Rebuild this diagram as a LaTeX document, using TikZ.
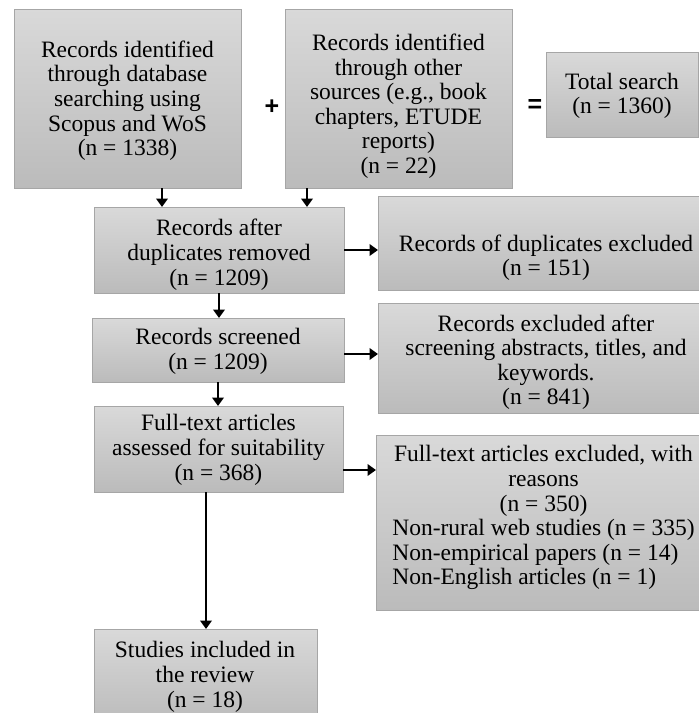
\documentclass[tikz,border=0pt]{standalone}
\usepackage{fontspec}
\setmainfont{Liberation Serif}
\newfontfamily\signfont{Liberation Sans}
\usetikzlibrary{arrows.meta}
\definecolor{boxtop}{HTML}{D9D9D9}
\definecolor{boxbot}{HTML}{BBBBBB}
\definecolor{boxline}{HTML}{A6A6A6}
\newcommand\boxlines[1]{\begin{tabular}{@{}c@{}}#1\end{tabular}}
\begin{document}
\begin{tikzpicture}[x=1pt,y=-1pt,
  box/.style={draw=boxline, line width=0.8pt, top color=boxtop, bottom color=boxbot, inner sep=0pt, outer sep=0pt},
  txt/.style={inner sep=0pt, font=\fontsize{23.5}{24.6}\selectfont},
  sign/.style={inner sep=0pt, font=\signfont\bfseries\fontsize{25}{28}\selectfont},
  arr/.style={line width=2.6pt, -{Triangle[length=8.5pt,width=11.5pt]}}]
\path[use as bounding box, clip] (0,0) rectangle (699,713);
\fill[white] (0,0) rectangle (699,713);

% boxes
\node[box, minimum width=227pt, minimum height=179pt] (a) at (127.5,98.5) {};
\node[box, minimum width=227pt, minimum height=179pt] (b) at (398.5,98.5) {};
\node[box, minimum width=152pt, minimum height=85pt] (c) at (622,94.5) {};
\node[box, minimum width=250pt, minimum height=86pt] (d) at (219,250) {};
\node[box, minimum width=336pt, minimum height=94pt] (e) at (546,243) {};
\node[box, minimum width=252pt, minimum height=64pt] (f) at (218,350) {};
\node[box, minimum width=336pt, minimum height=110pt] (g) at (546,358) {};
\node[box, minimum width=249pt, minimum height=86pt] (h) at (218.5,449) {};
\node[box, minimum width=223pt, minimum height=95pt] (i) at (205.5,676.5) {};
\node[box, minimum width=336pt, minimum height=175pt] (j) at (544,522.5) {};

% texts
\node[txt] (at) at (127.5,101.5) {\boxlines{Records identified\\through database\\searching using\\Scopus and WoS\\(n = 1338)}};
\node[txt] (bt) at (398.5,107) {\boxlines{Records identified\\through other\\sources (e.g., book\\chapters, ETUDE\\reports)\\(n = 22)}};
\node[txt] (ct) at (622,96.5) {\boxlines{Total search\\(n = 1360)}};
\node[txt] (dt) at (219,255.5) {\boxlines{Records after\\duplicates removed\\(n = 1209)}};
\node[txt] (et) at (546,258.5) {\boxlines{Records of duplicates excluded\\(n = 151)}};
\node[txt] (ft) at (218,352) {\boxlines{Records screened\\(n = 1209)}};
\node[txt] (gt) at (546,363) {\boxlines{Records excluded after\\screening abstracts, titles, and\\keywords.\\(n = 841)}};
\node[txt] (ht) at (218.5,450.5) {\boxlines{Full-text articles\\assessed for suitability\\(n = 368)}};
\node[txt] (it) at (205,677.5) {\boxlines{Studies included in\\the review\\(n = 18)}};
\node[txt] (jt) at (543.5,518.5) {\begin{tabular}{@{}l@{}}\multicolumn{1}{@{}c@{}}{Full-text articles excluded, with}\\\multicolumn{1}{@{}c@{}}{reasons}\\\multicolumn{1}{@{}c@{}}{(n = 350)}\\Non-rural web studies (n = 335)\\Non-empirical papers (n = 14)\\Non-English articles (n = 1)\end{tabular}};

% signs
\node[sign] (plus) at (272,107) {+};
\node[sign] (eq) at (535,106) {=};

% connectors
\coordinate (xa) at (162,0);
\coordinate (xb) at (307,0);
\coordinate (yf) at (0,354);
\coordinate (yh) at (0,470);
\coordinate (xh) at (206,0);
\draw[arr] (a.south -| xa) -- (d.north -| xa);
\draw[arr] (b.south -| xb) -- (d.north -| xb);
\draw[arr] (d.east) -- (d.east -| e.west);
\draw[arr] (d.south) -- (d.south |- f.north);
\draw[arr] (f.east |- yf) -- (g.west |- yf);
\draw[arr] (f.south) -- (f.south |- h.north);
\draw[arr] (h.east |- yh) -- (j.west |- yh);
\draw[arr] (h.south -| xh) -- (i.north -| xh);
\end{tikzpicture}
\end{document}
